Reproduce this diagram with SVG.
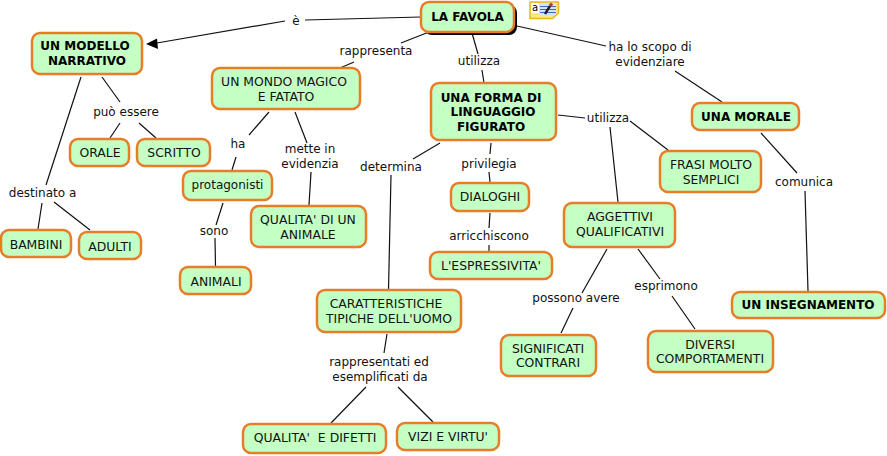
<svg xmlns="http://www.w3.org/2000/svg" width="887" height="456" viewBox="0 0 887 456">
<style>
text{font-family:"DejaVu Sans",Verdana,sans-serif;font-size:12px;fill:#111;text-anchor:middle}
.b{font-weight:bold;fill:#000}
.c{font-size:12.4px}
.n{fill:#c4ffc4;stroke:#e87d28;stroke-width:2.5}
#connectors line{stroke:#111;stroke-width:1.2}
</style>
<rect width="887" height="456" fill="#fff"/>
<g id="connectors">
<line x1="421" y1="17" x2="305" y2="20"/><line x1="285" y1="21" x2="154" y2="43.500"/>
<path d="M146 44L157 38.500L158 49Z" fill="#000"/>
<line x1="429" y1="32" x2="401" y2="43"/><line x1="354" y1="62" x2="340" y2="68"/>
<line x1="472" y1="33" x2="478" y2="54"/><line x1="482" y1="70" x2="484" y2="83"/>
<line x1="517" y1="26" x2="606" y2="46"/><line x1="675" y1="71" x2="722" y2="102"/>
<line x1="81" y1="77" x2="46" y2="185"/>
<line x1="102" y1="77" x2="120" y2="102"/><line x1="120" y1="123" x2="110" y2="138"/><line x1="139" y1="123" x2="156" y2="138"/>
<line x1="42" y1="203" x2="38" y2="229"/><line x1="54" y1="202" x2="90" y2="230"/>
<line x1="269" y1="112" x2="249" y2="135"/><line x1="236" y1="157" x2="232" y2="170"/>
<line x1="295" y1="112" x2="307" y2="143"/><line x1="311" y1="172" x2="309" y2="205"/>
<line x1="223" y1="203" x2="216" y2="225"/><line x1="215" y1="238" x2="215.500" y2="266"/>
<line x1="440" y1="143" x2="413" y2="159"/><line x1="391" y1="175" x2="388.500" y2="290"/>
<line x1="491" y1="143" x2="490" y2="154"/><line x1="489" y1="172" x2="490" y2="182"/>
<line x1="490" y1="213" x2="489" y2="228"/><line x1="489" y1="245" x2="489" y2="251"/>
<line x1="558" y1="115" x2="585" y2="118"/><line x1="610" y1="127" x2="618" y2="202"/><line x1="630" y1="121" x2="668" y2="150"/>
<line x1="761" y1="133" x2="797" y2="173"/><line x1="805" y1="191" x2="808" y2="291"/>
<line x1="607" y1="249" x2="582" y2="293"/><line x1="573" y1="308" x2="561" y2="333"/>
<line x1="638" y1="249" x2="660" y2="279"/><line x1="672" y1="296" x2="695" y2="329"/>
<line x1="387" y1="334" x2="384" y2="353"/><line x1="366" y1="387" x2="331" y2="423"/><line x1="398" y1="387" x2="433" y2="422"/>
</g>
<g id="n-favola"><rect x="424" y="5" width="93" height="30" rx="8" fill="#000"/><rect class="n" x="421" y="2" width="93" height="30" rx="8"/><text class="b" x="467.500" y="21">LA FAVOLA</text></g>
<g id="n-note"><path d="M530 2H558.500V13L552.500 18.500H530Z" fill="#ffe680" stroke="#e8b820" stroke-width="1.500"/><rect x="531" y="3" width="8" height="10" fill="#fff"/><text x="535" y="11" style="font-size:10px;fill:#000">a</text><rect x="540" y="4" width="16" height="11" fill="#cfe6fa"/><path d="M540 6.500H556M540 9.500H556M540 12.500H556" stroke="#3a6fc0"/><path d="M545 14L550 6" stroke="#222" stroke-width="2.500"/><path d="M550 6L552 3.500" stroke="#d03020" stroke-width="3"/></g>
<g id="n-modello"><rect class="n" x="32" y="33" width="110" height="41" rx="8"/><text class="b" x="85" y="50">UN MODELLO</text><text class="b" x="87" y="65">NARRATIVO</text></g>
<g id="n-mondo"><rect class="n" x="212" y="68" width="148" height="41" rx="8"/><text class="c" x="284" y="86">UN MONDO MAGICO</text><text class="c" x="286" y="101">E FATATO</text></g>
<g id="n-forma"><rect class="n" x="431" y="83" width="125" height="57" rx="8"/><text class="b" x="491" y="102">UNA FORMA DI</text><text class="b" x="493" y="116">LINGUAGGIO</text><text class="b" x="491" y="131">FIGURATO</text></g>
<g id="n-morale"><rect class="n" x="692" y="103" width="107" height="27" rx="8"/><text class="b" x="746" y="121">UNA MORALE</text></g>
<g id="n-orale"><rect class="n" x="70" y="139" width="59" height="27" rx="8"/><text class="c" x="100" y="157">ORALE</text></g>
<g id="n-scritto"><rect class="n" x="137" y="139" width="73" height="27" rx="8"/><text class="c" x="174" y="157">SCRITTO</text></g>
<g id="n-protagonisti"><rect class="n" x="183" y="171" width="89" height="29" rx="8"/><text x="227.500" y="189">protagonisti</text></g>
<g id="n-frasi"><rect class="n" x="660" y="151" width="101" height="41" rx="8"/><text class="c" x="711" y="169">FRASI MOLTO</text><text class="c" x="711" y="184">SEMPLICI</text></g>
<g id="n-dialoghi"><rect class="n" x="451" y="183" width="78" height="28" rx="8"/><text class="c" x="490" y="201">DIALOGHI</text></g>
<g id="n-aggettivi"><rect class="n" x="564" y="203" width="111" height="44" rx="8"/><text class="c" x="620" y="221">AGGETTIVI</text><text class="c" x="620" y="236">QUALIFICATIVI</text></g>
<g id="n-qualita"><rect class="n" x="251" y="206" width="115" height="41" rx="8"/><text class="c" x="308" y="224">QUALITA' DI UN</text><text class="c" x="308" y="239">ANIMALE</text></g>
<g id="n-bambini"><rect class="n" x="1" y="230" width="70" height="27" rx="8"/><text class="c" x="36" y="249">BAMBINI</text></g>
<g id="n-adulti"><rect class="n" x="79" y="232" width="62" height="27" rx="8"/><text class="c" x="110" y="251">ADULTI</text></g>
<g id="n-espressivita"><rect class="n" x="430" y="252" width="122" height="27" rx="8"/><text class="c" x="491" y="270">L'ESPRESSIVITA'</text></g>
<g id="n-animali"><rect class="n" x="180" y="267" width="71" height="27" rx="8"/><text class="c" x="216" y="286">ANIMALI</text></g>
<g id="n-insegnamento"><rect class="n" x="732" y="292" width="153" height="26" rx="8"/><text class="b" x="808" y="309">UN INSEGNAMENTO</text></g>
<g id="n-caratteristiche"><rect class="n" x="317" y="290" width="144" height="42" rx="8"/><text class="c" x="386" y="308">CARATTERISTICHE</text><text class="c" x="389" y="323">TIPICHE DELL'UOMO</text></g>
<g id="n-significati"><rect class="n" x="501" y="335" width="95" height="41" rx="8"/><text class="c" x="548" y="353">SIGNIFICATI</text><text class="c" x="548" y="367">CONTRARI</text></g>
<g id="n-diversi"><rect class="n" x="648" y="331" width="125" height="41" rx="8"/><text class="c" x="710" y="349">DIVERSI</text><text class="c" x="710" y="363">COMPORTAMENTI</text></g>
<g id="n-difetti"><rect class="n" x="243" y="424" width="143" height="29" rx="8"/><text class="c" x="315" y="442" xml:space="preserve">QUALITA'  E DIFETTI</text></g>
<g id="n-vizi"><rect class="n" x="397" y="423" width="102" height="27" rx="8"/><text class="c" x="448" y="441">VIZI E VIRTU'</text></g>
<g id="labels">
<text x="296" y="25">è</text><text x="376" y="55">rappresenta</text><text x="479" y="65">utilizza</text>
<text x="650" y="51">ha lo scopo di</text><text x="650" y="66">evidenziare</text>
<text x="126" y="116">può essere</text><text x="42.500" y="197">destinato a</text>
<text x="238" y="148">ha</text><text x="310" y="153">mette in</text><text x="310" y="168">evidenzia</text>
<text x="214" y="235">sono</text><text x="391" y="171">determina</text><text x="489" y="168">privilegia</text>
<text x="489" y="240">arricchiscono</text><text x="608" y="122">utilizza</text><text x="804" y="186">comunica</text>
<text x="576" y="302">possono avere</text><text x="666" y="290">esprimono</text>
<text x="379" y="366">rappresentati ed</text><text x="380" y="381">esemplificati da</text>
</g>
</svg>
